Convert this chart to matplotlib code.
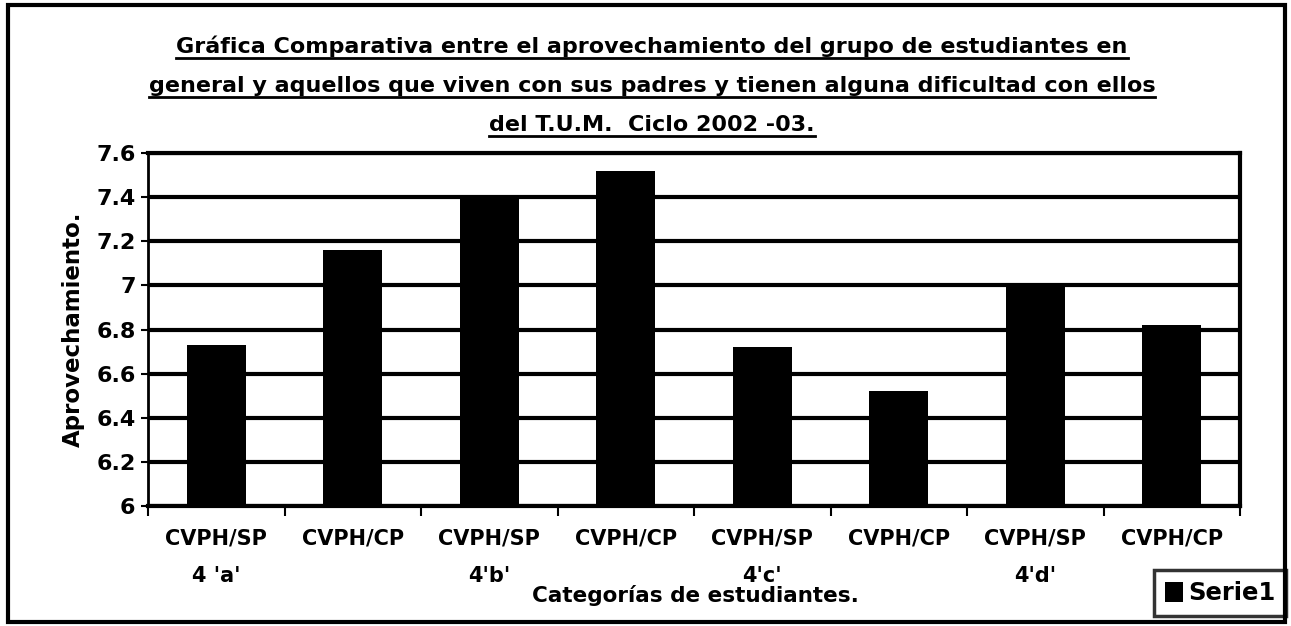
import numpy as np
import matplotlib
matplotlib.use("Agg")
import matplotlib.pyplot as plt
from matplotlib.patches import Rectangle
from matplotlib.lines import Line2D

# Datos
categorias = ["CVPH/SP\n4 'a'", "CVPH/CP", "CVPH/SP\n4'b'", "CVPH/CP",
              "CVPH/SP\n4'c'", "CVPH/CP", "CVPH/SP\n4'd'", "CVPH/CP"]
aprovechamiento = [6.73, 7.16, 7.40, 7.52, 6.72, 6.52, 7.01, 6.82]
yticks = [6, 6.2, 6.4, 6.6, 6.8, 7, 7.2, 7.4, 7.6]
ytick_labels = ["6", "6.2", "6.4", "6.6", "6.8", "7", "7.2", "7.4", "7.6"]
titulo = ["Gráfica Comparativa entre el aprovechamiento del grupo de estudiantes en",
          "general y aquellos que viven con sus padres y tienen alguna dificultad con ellos",
          "del T.U.M.  Ciclo 2002 -03."]

plt.rcParams['font.family'] = ['DejaVu Sans']
plt.rcParams['font.weight'] = 'bold'

W, H = 1291, 626
fig = plt.figure(figsize=(W / 100, H / 100), dpi=100)

# Borde exterior de la figura
fig.patches.append(Rectangle((8 / W, 4 / H), 1277 / W, 617 / H, transform=fig.transFigure,
                             fill=False, edgecolor='black', linewidth=3))

ax = fig.add_axes([148 / W, 1 - 506 / H, (1240 - 148) / W, (506 - 153) / H])
x = np.arange(len(aprovechamiento))
ax.bar(x, np.array(aprovechamiento) - 6, bottom=6, width=0.43, color='black',
       label='Serie1', zorder=3)

ax.set_xlim(-0.5, len(aprovechamiento) - 0.5)
ax.set_ylim(6, 7.6)
ax.set_yticks(yticks)
ax.set_yticklabels(ytick_labels, fontsize=16, fontweight='bold')
ax.set_xticks(x)
ax.set_xticklabels(categorias, fontsize=15, fontweight='bold', linespacing=2.1, va='top')
ax.tick_params(axis='x', length=0, pad=16)
ax.set_xticks(np.arange(len(aprovechamiento) + 1) - 0.5, minor=True)
ax.tick_params(axis='x', which='minor', length=7, width=1.5, direction='out')
ax.tick_params(axis='y', length=5, width=1.5, direction='out', pad=4)
ax.yaxis.grid(True, color='black', linewidth=3, zorder=1)
for s in ax.spines.values():
    s.set_linewidth(3)
ax.spines['left'].set_linewidth(2)

ax.set_ylabel("Aprovechamiento.", fontsize=16.5, fontweight='bold', labelpad=8)
fig.text(695 / W, 1 - 595 / H, "Categorías de estudiantes.", ha='center', va='center',
         fontsize=15.5, fontweight='bold')

leg = ax.legend(loc='center', bbox_to_anchor=(1220 / W, 1 - 593 / H),
                bbox_transform=fig.transFigure, frameon=True,
                fancybox=False, edgecolor='black', handlelength=0.75, handleheight=0.9,
                handletextpad=0.2, borderpad=0.45, borderaxespad=0,
                prop={'weight': 'bold', 'size': 17.5})
leg.get_frame().set_linewidth(2.5)

# Título subrayado, línea por línea
ys = [46, 86, 125]
textos = []
for linea, yy in zip(titulo, ys):
    t = fig.text(652 / W, 1 - yy / H, linea, ha='center', va='center',
                 fontsize=16, fontweight='bold')
    textos.append(t)
fig.canvas.draw()
r = fig.canvas.get_renderer()
for t in textos:
    bb = t.get_window_extent(r)
    yline = (bb.y0 - 1) / H
    fig.add_artist(Line2D([bb.x0 / W, bb.x1 / W], [yline, yline], color='black',
                          linewidth=2, transform=fig.transFigure))

fig.savefig("out.png", dpi=100)
